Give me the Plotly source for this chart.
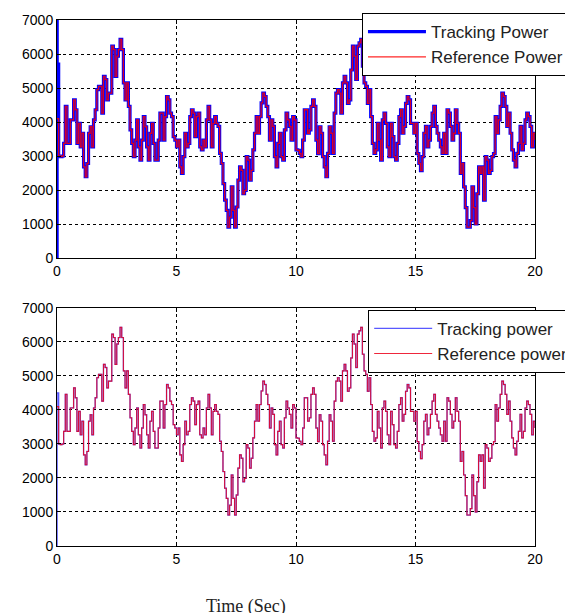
import numpy as np
import plotly.graph_objects as go
from plotly.subplots import make_subplots

# Reference power (W), uniform samples over 0..20 s
ref_first = [4100, 3000, 2980, 3000, 3370, 4460, 3370, 3370, 4060, 4060,
             4650, 4360, 3370, 3960, 3270, 3670, 2680, 2390, 2780, 3670,
             3860, 3270, 4060, 4360, 4950, 5050, 5050, 4260, 5340, 5250,
             4650, 4850, 4850, 6230, 6130, 5340, 5940, 6130, 6430, 6130,
             5150, 4650, 5150, 4460, 3770, 3370, 2980, 3470, 4060, 3270,
             2880, 3470, 4160, 3860, 3270, 2880, 3670, 3960, 3370, 2880,
             2880, 3470, 4260, 4260, 3470, 4160, 4750, 4650, 4260, 4160,
             3570, 3470, 3270, 3470, 2680, 2490, 2980, 3670, 3270, 3370,
             4160, 4360, 4260, 3570, 4160, 4260, 3270, 3180, 3470, 3270,
             4060, 4460, 4060, 3270, 3960, 4160, 3960, 3870, 3080, 2780,
             2190, 1700, 1400, 910, 1200, 2090, 1400, 910, 1500, 2290,
             2680, 2580, 1890, 1990, 2980, 2880, 2290, 2580, 3180, 3670,
             4160, 3670, 4160, 4560, 4850, 4750, 4460, 4160, 3470, 4060,
             3870, 2980, 2680, 3370, 3670, 2980, 2880, 3770, 4260, 4060,
             3870, 3470, 4160, 4060, 3180]
ref_second = [3170, 3080, 2980, 3470, 4360, 4360, 3670, 3770, 4460, 4650,
              4460, 3470, 3070, 3860, 3670, 2980, 2680, 2390, 3080, 3860,
              3670, 3080, 4260, 4850, 4950, 4850, 4260, 5150, 5340, 5150,
              4550, 4650, 5530, 6230, 5940, 5250, 6230, 6330, 6430, 5640,
              5150, 5050, 4550, 4950, 4160, 3370, 3080, 3180, 3960, 3470,
              2880, 4060, 4260, 3960, 3270, 2980, 3960, 3570, 2980, 2880,
              3370, 4160, 4360, 3670, 3870, 4550, 4750, 4650, 3960, 3960,
              3670, 3960, 3070, 2780, 2570, 2980, 3670, 3870, 3270, 3470,
              3870, 4260, 4460, 3870, 3670, 3470, 3270, 3080, 3670, 3080,
              4360, 4260, 3870, 3470, 3670, 4360, 3960, 3670, 2490, 2780,
              2090, 1480, 910, 910, 1100, 2090, 1480, 1000, 1890, 2680,
              2490, 2680, 1700, 2980, 2880, 2490, 2580, 2980, 3070, 4160,
              3670, 4060, 4460, 4850, 4750, 4460, 3870, 4260, 3670, 3180,
              2880, 2680, 3080, 3370, 3870, 3180, 3370, 4060, 4260, 4160,
              3870, 3270, 3670, 3470]
reference = ref_first + ref_second
t_end = 20.0

# initial transient of the tracking signal
top_start_t = [0.0, 0.004, 0.008]
top_start_v = [0, 7000, 5700]
bot_start_t = [0.0, 0.004]
bot_start_v = [0, 4500]

x_ticks = [0, 5, 10, 15, 20]
y_ticks = [0, 1000, 2000, 3000, 4000, 5000, 6000, 7000]

t = np.linspace(0, t_end, len(reference))
ref = np.array(reference, dtype=float)

track_top_t = np.concatenate([top_start_t, t[1:]])
track_top_v = np.concatenate([top_start_v, ref[1:]])
track_bot_t = np.concatenate([bot_start_t, t[1:]])
track_bot_v = np.concatenate([bot_start_v, ref[1:]])

fig = make_subplots(rows=2, cols=1, vertical_spacing=0.095)

fig.add_trace(go.Scatter(x=track_top_t, y=track_top_v, mode="lines", line_shape="hv",
                         line=dict(color="#0000ff", width=3.2), name="Tracking Power",
                         legend="legend"), row=1, col=1)
fig.add_trace(go.Scatter(x=t, y=ref, mode="lines", line_shape="hv",
                         line=dict(color="rgba(255,0,0,0.85)", width=1.3), name="Reference Power",
                         legend="legend"), row=1, col=1)
fig.add_trace(go.Scatter(x=track_bot_t, y=track_bot_v, mode="lines", line_shape="hv",
                         line=dict(color="rgba(60,60,255,0.85)", width=1.3), name="Tracking power",
                         legend="legend2"), row=2, col=1)
fig.add_trace(go.Scatter(x=t, y=ref, mode="lines", line_shape="hv",
                         line=dict(color="rgba(235,0,25,0.85)", width=1.1), name="Reference power",
                         legend="legend2"), row=2, col=1)

axis_common = dict(showline=True, linecolor="black", linewidth=1, mirror="allticks",
                   ticks="inside", ticklen=4, tickcolor="black",
                   showgrid=True, gridcolor="black", griddash="dot", gridwidth=1,
                   zeroline=False, tickfont=dict(family="Liberation Sans", size=14, color="black"))

for r in (1, 2):
    fig.update_xaxes(range=[0, 20], tickvals=x_ticks, **axis_common, row=r, col=1)
    fig.update_yaxes(range=[0, 7000], tickvals=y_ticks, **axis_common, row=r, col=1)

legend_font = dict(family="Liberation Sans", size=17, color="#222")
fig.update_layout(
    width=565, height=613,
    margin=dict(l=57, r=30, t=20, b=67, autoexpand=False),
    plot_bgcolor="white", paper_bgcolor="white",
    showlegend=True,
    legend=dict(x=0.638, y=1.013, xanchor="left", yanchor="top",
                bgcolor="white", bordercolor="black", borderwidth=1,
                font=legend_font, itemwidth=58, tracegroupgap=2),
    legend2=dict(x=0.651, y=0.449, xanchor="left", yanchor="top",
                 bgcolor="white", bordercolor="black", borderwidth=1,
                 font=legend_font, itemwidth=58, tracegroupgap=2),
    annotations=[dict(text="Time (Sec)", x=0.395, y=-0.092, xref="paper", yref="paper",
                      xanchor="center", yanchor="top", showarrow=False,
                      font=dict(family="Liberation Serif", size=18, color="#222"))],
)
# match the subplot domains to the reference layout
fig.update_yaxes(domain=[0.5475, 1.0], row=1, col=1)
fig.update_yaxes(domain=[0.0, 0.4525], row=2, col=1)

fig.write_html("out.html")
